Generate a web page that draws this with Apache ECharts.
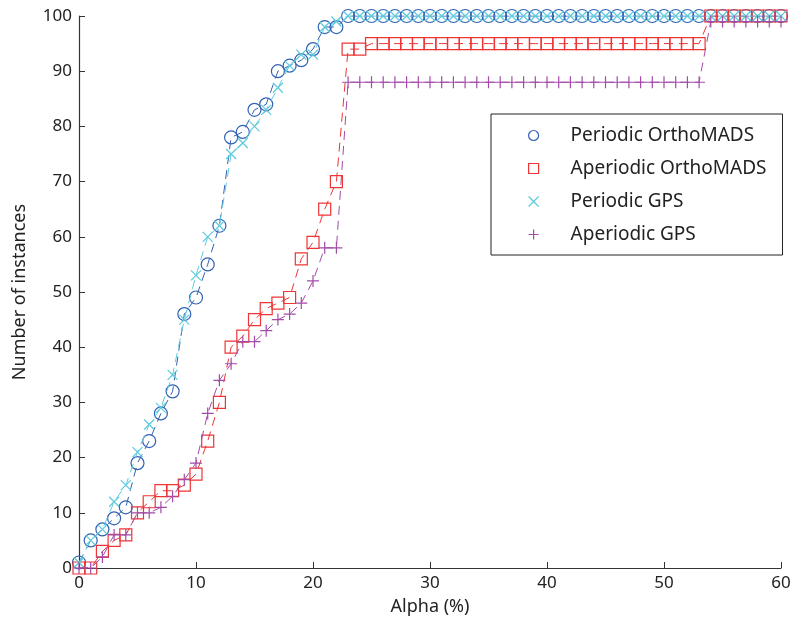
<!DOCTYPE html>
<html>
<head>
<meta charset="utf-8">
<script src="https://cdn.jsdelivr.net/npm/echarts@6/dist/echarts.min.js"></script>
<style>
html,body{margin:0;padding:0;background:#fff;}
#chart{width:794px;height:624px;}
</style>
</head>
<body>
<div id="chart"></div>
<script>
// ---- data ----
const alpha = Array.from({length: 61}, (_, i) => i); // 0..60 (%)
const periodicOrtho = [1,5,7,9,11,19,23,28,32,46,49,55,62,78,79,83,84,90,91,92,94,98,98,
  100,100,100,100,100,100,100,100,100,100,100,100,100,100,100,100,100,100,100,100,100,100,100,100,100,100,100,100,100,100,100,100,100,100,100,100,100,100];
const aperiodicOrtho = [0,0,3,5,6,10,12,14,14,15,17,23,30,40,42,45,47,48,49,56,59,65,70,94,94,
  95,95,95,95,95,95,95,95,95,95,95,95,95,95,95,95,95,95,95,95,95,95,95,95,95,95,95,95,95,
  100,100,100,100,100,100,100];
const periodicGPS = [1,5,7,12,15,21,26,29,35,45,53,60,62,75,77,80,83,87,91,93,93,98,99,
  100,100,100,100,100,100,100,100,100,100,100,100,100,100,100,100,100,100,100,100,100,100,100,100,100,100,100,100,100,100,100,100,100,100,100,100,100,100];
const aperiodicGPS = [0,0,2,6,6,10,10,11,13,16,19,28,34,37,41,41,43,45,46,48,52,58,58,
  88,88,88,88,88,88,88,88,88,88,88,88,88,88,88,88,88,88,88,88,88,88,88,88,88,88,88,88,88,88,88,
  99,99,99,99,99,99,99];
const seriesNames = ['Periodic OrthoMADS','Aperiodic OrthoMADS','Periodic GPS','Aperiodic GPS'];
const xTicks = [0,10,20,30,40,50,60];
const yTicks = [0,10,20,30,40,50,60,70,80,90,100];

// ---- styles ----
const colors = ['#3262b4','#ee3535','#5ccbdc','#a24ca8'];
const CROSS = 'path://M0,0L1,1M1,0L0,1';
const PLUS = 'path://M0.5,0L0.5,1M0,0.5L1,0.5';
const symbols = ['circle','rect',CROSS,PLUS];
const sizes = [13,12,10,12];
const FONT = '"Noto Sans", "Open Sans", sans-serif';

function pairs(vals){ return alpha.map((a,i)=>[a, vals[i]]); }
const allVals = [periodicOrtho, aperiodicOrtho, periodicGPS, aperiodicGPS];

const series = seriesNames.map((name, k) => ({
  name: name,
  type: 'line',
  data: pairs(allVals[k]),
  symbol: symbols[k],
  symbolSize: sizes[k],
  showAllSymbol: true,
  animation: false,
  lineStyle: {color: colors[k], width: 1, type: [9,6]},
  itemStyle: {color: 'rgba(0,0,0,0)', borderColor: colors[k], borderWidth: 1.2},
  emphasis: {disabled: true},
  z: 2 + k
}));

const chart = echarts.init(document.getElementById('chart'), null, {renderer: 'canvas'});
chart.setOption({
  animation: false,
  backgroundColor: '#fff',
  grid: {left: 79, right: 13, top: 16, bottom: 56, containLabel: false},
  xAxis: {
    type: 'value', min: 0, max: 60, interval: 10,
    name: 'Alpha (%)', nameLocation: 'middle', nameGap: 30,
    nameTextStyle: {fontFamily: FONT, fontSize: 18, color: '#222'},
    axisLine: {onZero: false, lineStyle: {color: '#333', width: 1.2}},
    axisTick: {inside: true, length: 6, lineStyle: {color: '#333'}},
    axisLabel: {fontFamily: FONT, fontSize: 17, color: '#222', margin: 7,
      formatter: v => xTicks.includes(v) ? String(v) : ''},
    splitLine: {show: false}
  },
  yAxis: {
    type: 'value', min: 0, max: 100, interval: 10,
    name: 'Number of instances', nameLocation: 'middle', nameGap: 50,
    nameTextStyle: {fontFamily: FONT, fontSize: 18, color: '#222'},
    axisLine: {show: true, onZero: false, lineStyle: {color: '#333', width: 1.2}},
    axisTick: {show: true, inside: true, length: 6, lineStyle: {color: '#333'}},
    axisLabel: {fontFamily: FONT, fontSize: 17, color: '#222', margin: 7,
      formatter: v => yTicks.includes(v) ? String(v) : ''},
    splitLine: {show: false}
  },
  legend: {
    orient: 'vertical',
    left: 491, top: 114,
    padding: [12, 16, 11, 37],
    itemGap: 14,
    itemWidth: 10, itemHeight: 10,
    borderColor: '#222', borderWidth: 1,
    backgroundColor: '#fff',
    selectedMode: false,
    textStyle: {fontFamily: FONT, fontSize: 19, color: '#222', padding: [0,0,0,27]},
    data: seriesNames.map((n,k) => ({
      name: n, icon: symbols[k],
      itemStyle: {color: 'rgba(0,0,0,0)', borderColor: colors[k], borderWidth: 1.2}
    }))
  },
  series: series
});
</script>
</body>
</html>
